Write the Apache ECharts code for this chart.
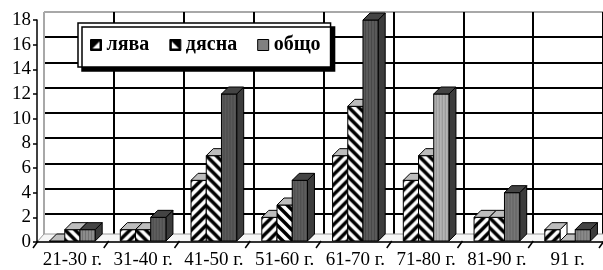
<!DOCTYPE html>
<html>
<head>
<meta charset="utf-8">
<script src="https://cdn.jsdelivr.net/npm/echarts@6/dist/echarts.min.js"></script>
<style>
  html, body { margin: 0; padding: 0; background: #fff; }
  #chart { width: 603px; height: 270px; }
</style>
</head>
<body>
<div id="chart"></div>
<script>
// age groups and counts
const categories = ['21-30 г.', '31-40 г.', '41-50 г.', '51-60 г.', '61-70 г.', '71-80 г.', '81-90 г.', '91 г.'];
const leftSide = [0, 1, 5, 2, 7, 5, 2, 1];
const rightSide = [1, 1, 7, 3, 11, 7, 2, 0];
const total = [1, 2, 12, 5, 18, 12, 4, 1];
const yMin = 0, yMax = 18, yStep = 2;

// grays used for the "общо" bars (scanned picture is uneven)
const totalGrays = ['#8c8c8c', '#5e5e5e', '#5a5a5a', '#5e5e5e', '#5a5a5a', '#b4b4b4', '#767676', '#8a8a8a'];

const FONT = "'Liberation Serif', 'DejaVu Serif', serif";
const DX = 7, DY = 7;

function stripes(dir) {
  const c = document.createElement('canvas');
  c.width = c.height = 10;
  const g = c.getContext('2d');
  g.fillStyle = '#fff';
  g.fillRect(0, 0, 10, 10);
  g.strokeStyle = '#000';
  g.lineWidth = 3.4;
  g.beginPath();
  if (dir > 0) {
    g.moveTo(-5, 5); g.lineTo(5, -5);
    g.moveTo(0, 10); g.lineTo(10, 0);
    g.moveTo(5, 15); g.lineTo(15, 5);
  } else {
    g.moveTo(-5, 5); g.lineTo(5, 15);
    g.moveTo(0, 0); g.lineTo(10, 10);
    g.moveTo(5, -5); g.lineTo(15, 5);
  }
  g.stroke();
  return c;
}

function grayLines(base) {
  const c = document.createElement('canvas');
  c.width = 3; c.height = 4;
  const g = c.getContext('2d');
  g.fillStyle = base;
  g.fillRect(0, 0, 3, 4);
  g.fillStyle = 'rgba(0,0,0,0.18)';
  g.fillRect(2, 0, 1, 4);
  return c;
}

function legendIcon(dir) {
  const c = document.createElement('canvas');
  c.width = c.height = 11;
  const g = c.getContext('2d');
  g.fillStyle = '#000';
  g.fillRect(0, 0, 11, 11);
  g.fillStyle = '#fff';
  g.beginPath();
  if (dir > 0) {
    g.moveTo(2, 9); g.lineTo(9, 2); g.lineTo(9, 9);
  } else {
    g.moveTo(2, 2); g.lineTo(9, 9); g.lineTo(2, 9);
  }
  g.closePath();
  g.fill();
  return c;
}

const patL = { image: stripes(1), repeat: 'repeat' };
const patR = { image: stripes(-1), repeat: 'repeat' };

function barRenderer(slot, frontFill, topFill, sideFill) {
  return function (params, api) {
    const cat = api.value(0);
    const val = api.value(1);
    const base = api.coord([cat, 0]);
    const top = api.coord([cat, val]);
    const band = api.size([1, 0])[0];
    const bw = band * 0.215;
    const x0 = base[0] - 1.5 * bw + slot * bw;
    const y0 = base[1] - 1;
    const y1 = Math.min(top[1], y0);
    const h = y0 - y1;
    const idx = params.dataIndex;
    return {
      type: 'group',
      children: [
        {
          type: 'polygon',
          shape: { points: [[x0 + bw, y1], [x0 + bw + DX, y1 - DY], [x0 + bw + DX, y0 - DY], [x0 + bw, y0]] },
          style: { fill: sideFill(idx), stroke: '#000', lineWidth: 1 }
        },
        {
          type: 'rect',
          x: x0, y: y1,
          shape: { x: 0, y: 0, width: bw, height: h },
          style: { fill: frontFill(idx), stroke: '#000', lineWidth: 1 }
        },
        {
          type: 'polygon',
          shape: { points: [[x0, y1], [x0 + DX, y1 - DY], [x0 + bw + DX, y1 - DY], [x0 + bw, y1]] },
          style: { fill: topFill(idx), stroke: '#000', lineWidth: 1 }
        }
      ]
    };
  };
}

function floorRenderer(params, api) {
  const band = api.size([1, 0])[0];
  const a = api.coord([0, 0]);
  const b = api.coord([categories.length - 1, 0]);
  const xl = a[0] - band / 2, xr = b[0] + band / 2, y = a[1];
  const children = [{
    type: 'polygon',
    shape: { points: [[xl, y], [xl + DX, y - DY - 1], [xr + DX, y - DY - 1], [xr, y]] },
    style: { fill: '#f6f6f6', stroke: '#9a9a9a', lineWidth: 1 }
  }];
  for (let k = 0; k <= categories.length; k++) {
    const x = xl + k * band;
    children.push({
      type: 'line',
      shape: { x1: x - 4, y1: y + 6, x2: x + 1, y2: y - 1 },
      style: { stroke: '#000', lineWidth: 1.5 }
    });
  }
  return { type: 'group', children: children };
}

const totalFront = totalGrays.map(c => ({ image: grayLines(c), repeat: 'repeat' }));

const chart = echarts.init(document.getElementById('chart'), null, { renderer: 'canvas' });

const backY = ['#9a9a9a', '#000', '#000', '#000', '#000', '#000', '#000', '#000', '#000', '#a8a8a8'];
const backX = ['#a8a8a8', '#000', '#000', '#000', '#000', '#000', '#000', '#000', '#000'];

chart.setOption({
  backgroundColor: '#fff',
  animation: false,
  grid: [
    { left: 37, top: 20, width: 568, height: 227 },
    { left: 44, top: 12, width: 568, height: 227 }
  ],
  legend: {
    left: 78,
    top: 23,
    padding: [12, 10, 12, 12],
    itemGap: 20,
    itemWidth: 11,
    itemHeight: 11,
    backgroundColor: '#fff',
    borderColor: '#000',
    borderWidth: 1.5,
    shadowColor: '#000',
    shadowBlur: 0,
    shadowOffsetX: 4,
    shadowOffsetY: 4,
    itemStyle: { borderColor: '#000', borderWidth: 1 },
    textStyle: { fontFamily: 'Liberation Serif', fontWeight: 'bold', fontSize: 20, color: '#000' },
    data: [
      { name: 'лява', icon: 'rect', itemStyle: { color: { image: legendIcon(1), repeat: 'no-repeat' } } },
      { name: 'дясна', icon: 'rect', itemStyle: { color: { image: legendIcon(-1), repeat: 'no-repeat' } } },
      { name: 'общо', icon: 'rect', itemStyle: { color: '#808080' } }
    ]
  },
  xAxis: [
    {
      gridIndex: 0,
      type: 'category',
      data: categories,
      axisLine: { show: true, lineStyle: { color: '#000', width: 1.5 } },
      axisTick: { show: false },
      axisLabel: { color: '#000', fontFamily: FONT, fontSize: 19, margin: 9, interval: 0 },
      splitLine: { show: false },
      z: 5
    },
    {
      gridIndex: 1,
      type: 'category',
      data: categories,
      axisLine: { show: false },
      axisTick: { show: false },
      axisLabel: { show: false },
      splitLine: { show: true, lineStyle: { color: backX, width: 2 } }
    }
  ],
  yAxis: [
    {
      gridIndex: 0,
      type: 'value',
      min: yMin, max: yMax, interval: yStep,
      axisLine: { show: true, lineStyle: { color: '#000', width: 1.5 } },
      axisTick: { show: true, length: 4, lineStyle: { color: '#000', width: 1.5 } },
      axisLabel: { color: '#000', fontFamily: FONT, fontSize: 19, margin: 6 },
      splitLine: { show: false },
      z: 5
    },
    {
      gridIndex: 1,
      type: 'value',
      min: yMin, max: yMax, interval: yStep,
      axisLine: { show: false },
      axisTick: { show: false },
      axisLabel: { show: false },
      splitLine: { show: true, lineStyle: { color: backY, width: 2 } }
    }
  ],
  series: [
    {
      name: 'floor',
      type: 'custom',
      xAxisIndex: 0, yAxisIndex: 0,
      data: [[0, 0]],
      z: 1,
      silent: true,
      renderItem: floorRenderer
    },
    {
      name: 'лява',
      type: 'custom',
      xAxisIndex: 0, yAxisIndex: 0,
      itemStyle: { color: '#000' },
      data: leftSide.map((v, i) => [i, v]),
      encode: { x: 0, y: 1 },
      z: 3,
      renderItem: barRenderer(0, () => patL, () => '#bdbdbd', () => '#fff')
    },
    {
      name: 'дясна',
      type: 'custom',
      xAxisIndex: 0, yAxisIndex: 0,
      itemStyle: { color: '#000' },
      data: rightSide.map((v, i) => [i, v]),
      encode: { x: 0, y: 1 },
      z: 3,
      renderItem: barRenderer(1, () => patR, () => '#bdbdbd', () => '#fff')
    },
    {
      name: 'общо',
      type: 'custom',
      xAxisIndex: 0, yAxisIndex: 0,
      itemStyle: { color: '#808080' },
      data: total.map((v, i) => [i, v]),
      encode: { x: 0, y: 1 },
      z: 3,
      renderItem: barRenderer(2, i => totalFront[i], () => '#444', () => '#3c3c3c')
    }
  ]
});
</script>
</body>
</html>
